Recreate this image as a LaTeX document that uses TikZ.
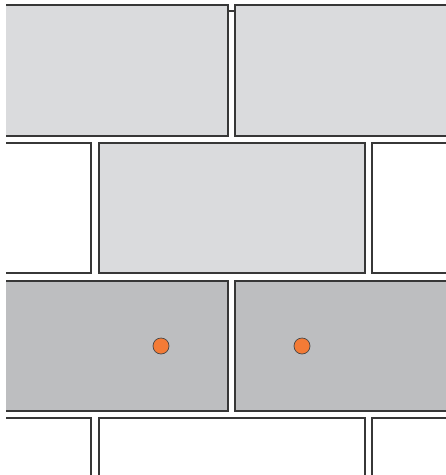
\documentclass[tikz,border=0pt]{standalone}
\definecolor{edgecol}{RGB}{55,55,55}
\definecolor{lightcol}{RGB}{218,219,221}
\definecolor{darkcol}{RGB}{189,190,192}
\definecolor{dotcol}{RGB}{243,123,54}
\definecolor{dotedge}{RGB}{70,70,70}
\begin{document}
\begin{tikzpicture}[x=1pt,y=-1pt,
  edge/.style={draw=edgecol,line width=1.1pt,line join=miter},
  lightfill/.style={fill=lightcol},
  darkfill/.style={fill=darkcol},
  dot/.style={circle,minimum size=16pt,inner sep=0pt,fill=dotcol,draw=dotedge,line width=0.7pt}]
\useasboundingbox (0,0) rectangle (446,475);
% row 1
\fill[lightfill] (6,5) rectangle (228,136);
\draw[edge] (6,5) -- (228,5) -- (228,136) -- (6,136);
\fill[lightfill] (235,5) rectangle (446,136);
\draw[edge] (446,5) -- (235,5) -- (235,136) -- (446,136);
\draw[edge] (228,11) -- (235,11);
% row 2
\draw[edge] (6,143) -- (91,143) -- (91,273) -- (6,273);
\filldraw[lightfill,edge] (99,143) rectangle (365,273);
\draw[edge] (446,143) -- (372,143) -- (372,273) -- (446,273);
% row 3
\fill[darkfill] (6,281) rectangle (228,411);
\draw[edge] (6,281) -- (228,281) -- (228,411) -- (6,411);
\fill[darkfill] (235,281) rectangle (446,411);
\draw[edge] (446,281) -- (235,281) -- (235,411) -- (446,411);
\node[dot] (d1) at (161,346) {};
\node[dot] (d2) at (302,346) {};
% row 4
\draw[edge] (6,418) -- (91,418) -- (91,476);
\draw[edge] (99,476) -- (99,418) -- (365,418) -- (365,476);
\draw[edge] (446,418) -- (372,418) -- (372,476);
\end{tikzpicture}
\end{document}
